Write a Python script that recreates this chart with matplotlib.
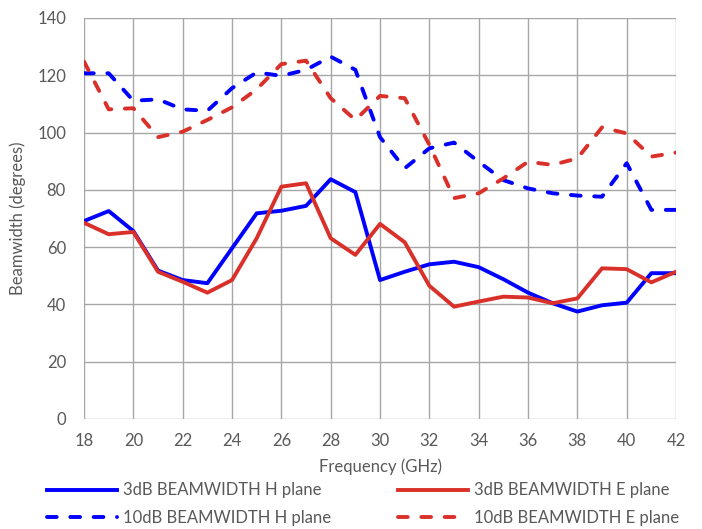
import numpy as np
import matplotlib.pyplot as plt

plt.rcParams['font.family'] = ['Lato', 'DejaVu Sans']

# Frequency points (GHz)
freq = np.arange(18, 43)

# Beamwidths (degrees)
h3db = [69.1, 72.6, 65.6, 51.8, 48.5, 47.4, 59.6, 71.8, 72.7, 74.4, 83.7, 79.2, 48.5,
        51.4, 54.0, 54.9, 53.0, 48.8, 44.1, 40.4, 37.5, 39.7, 40.6, 50.9, 50.9]
e3db = [68.5, 64.5, 65.3, 51.4, 47.9, 44.1, 48.5, 63.1, 81.1, 82.3, 63.1, 57.3, 68.1,
        61.7, 46.5, 39.2, 41.0, 42.7, 42.4, 40.4, 42.1, 52.6, 52.3, 47.7, 51.4]
h10db = [120.7, 120.7, 111.1, 111.6, 108.1, 107.6, 115.5, 121.0, 119.8, 121.9, 126.5, 121.9, 98.4,
         87.5, 94.5, 96.5, 89.8, 83.4, 80.5, 78.8, 78.0, 77.6, 89.3, 73.0, 73.0]
e10db = [124.8, 108.1, 108.5, 98.4, 100.3, 104.4, 108.8, 115.1, 123.9, 125.1, 112.0, 104.4, 112.8,
         112.0, 95.7, 77.1, 78.8, 84.0, 89.8, 88.7, 91.0, 101.8, 99.7, 91.6, 93.0]

blue = '#0000FF'
red = '#D9302A'
grey = '#595959'

fig = plt.figure(figsize=(7.02, 5.29), dpi=100)
ax = fig.add_axes([0.1197, 0.208, 0.8433, 0.758])

lw = 2.8
ax.plot(freq, h3db, color=blue, lw=lw, label='3dB BEAMWIDTH H plane')
ax.plot(freq, h10db, color=blue, lw=lw, dashes=(2.5, 3.5), dash_capstyle='round',
        label='10dB BEAMWIDTH H plane')
ax.plot(freq, e3db, color=red, lw=lw, label='3dB BEAMWIDTH E plane')
ax.plot(freq, e10db, color=red, lw=lw, dashes=(2.5, 3.5), dash_capstyle='round',
        label='10dB BEAMWIDTH E plane')

ax.set_xlim(18, 42)
ax.set_ylim(0, 140)
ax.set_xticks(np.arange(18, 43, 2))
ax.set_yticks(np.arange(0, 141, 20))
ax.grid(color='#A6A6A6', lw=1)
ax.set_axisbelow(True)
for s in ax.spines.values():
    s.set_visible(False)
ax.tick_params(length=0, labelsize=12, labelcolor=grey)
ax.tick_params(axis='y', pad=13)
ax.tick_params(axis='x', pad=10)
ax.set_xlabel('Frequency (GHz)', fontsize=12, color=grey, labelpad=7)
ax.set_ylabel('Beamwidth (degrees)', fontsize=12, color=grey, labelpad=8)

fig.legend(loc='lower left', bbox_to_anchor=(0.067, 0.006), ncol=2, frameon=False,
           fontsize=12, labelcolor=grey, handlelength=4.2, handletextpad=0.36,
           columnspacing=4.0, labelspacing=0.68, borderpad=0, borderaxespad=0)

fig.savefig('out.png', dpi=100)
